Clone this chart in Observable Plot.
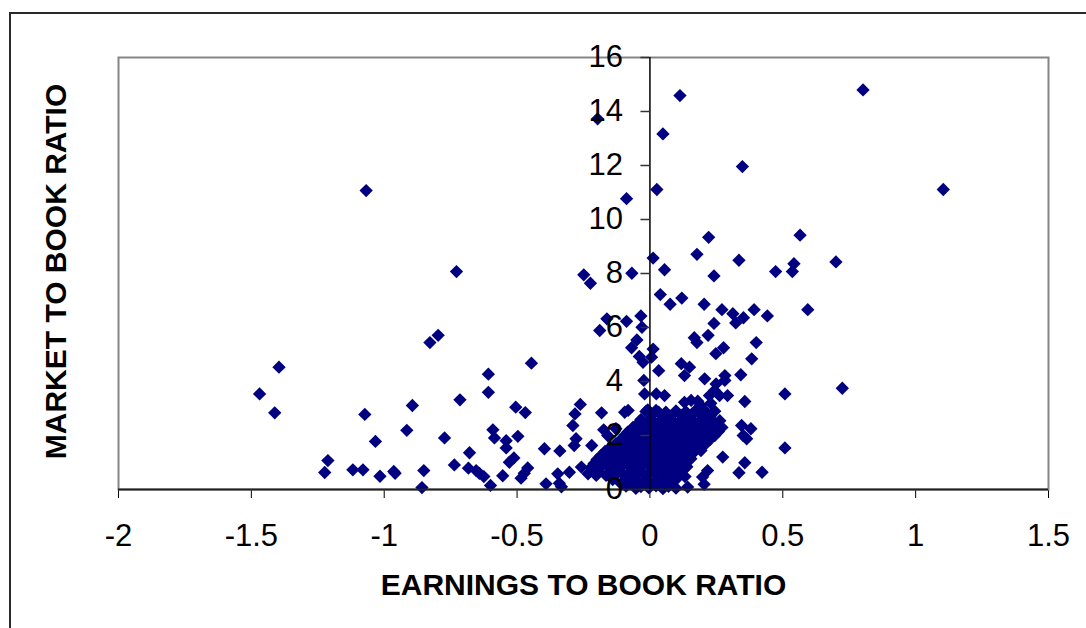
<!DOCTYPE html>
<html>
<head>
<meta charset="utf-8">
<script src="https://cdn.jsdelivr.net/npm/d3@7"></script>
<script src="https://cdn.jsdelivr.net/npm/@observablehq/plot@0.6"></script>
<style>
  html, body { margin: 0; padding: 0; background: #fff; overflow: hidden; }
  #wrap { position: relative; width: 1086px; height: 628px; }
  #border { position: absolute; left: 9px; top: 12px; width: 1200px; height: 800px;
            border: 2px solid #2a2a2a; pointer-events: none; }
  #chart { position: absolute; left: 0; top: 0; }
</style>
</head>
<body>
<div id="wrap"><div id="chart"></div><div id="border"></div></div>
<script>
// Earnings-to-book ratio (x) and market-to-book ratio (y)
const earnings = [
  -0.197, 0.113, 0.049, 0.348, 0.026, -0.088, 0.802, 0.221, 0.565, 0.012,
  0.177, 0.335, 0.700, 0.542, 0.536, 0.473, 0.055, 0.241, -0.068, -0.249,
  -0.224, 0.039, 0.120, 0.076, 0.204, 0.271, 0.392, 0.594, 0.312, 0.442,
  0.352, 0.323, 0.241, -0.034, -0.030, -0.088, -0.162, -0.189, -0.049, -0.069,
  0.167, 0.177, 0.219, 0.400, 0.012, 0.248, 0.277, -0.040, 0.383, 0.342,
  0.282, 0.282, 0.508, 0.724, 0.357, 0.292, 0.345, 0.380, 0.351, 0.364,
  0.508, 0.357, 0.335, 0.422, 0.274, 1.104, -0.728, -0.828, -0.797, -0.446,
  -0.608, -0.608, -0.715, -0.894, -1.073, -0.505, -0.469, -0.262, -0.282, -0.182,
  -0.095, -0.082, 0.006, -0.026, 0.033, -0.023, -0.020, 0.024, 0.055, -0.008,
  0.033, 0.118, 0.149, 0.130, 0.206, 0.249, 0.130, 0.155, 0.180, 0.224,
  0.243, 0.262, 0.254, 0.217, 0.198, 0.204, 0.142, -0.333, -0.290, -0.278,
  -0.285, -0.219, -0.339, -0.159, -0.128, -0.084, -0.174, -1.396, -1.469, -1.412,
  -1.068, -0.915, -1.033, -0.773, -0.591, -0.585, -0.541, -0.541, -0.497, -0.679,
  -0.512, -0.529, -0.397, -1.212, -1.224, -1.118, -1.080, -1.016, -0.964, -0.959,
  -0.851, -0.858, -0.736, -0.683, -0.654, -0.642, -0.625, -0.600, -0.554, -0.485,
  -0.473, -0.460, -0.391, -0.347, -0.341, -0.303, -0.258, -0.233, -0.202,
  // dense cluster near the origin
  0.229, 0.190,
  -0.015, 0.023, 0.060, 0.098, 0.135, 0.173, 0.211, 0.244,
  0.004, 0.041, 0.079, 0.117, 0.154, 0.192, 0.229,
  -0.034, 0.004, 0.041, 0.079, 0.117, 0.154, 0.192, 0.229, 0.263,
  -0.045, -0.008, 0.030, 0.067, 0.105, 0.143, 0.180, 0.218, 0.254,
  -0.064, -0.026, 0.011, 0.049, 0.086, 0.124, 0.162, 0.199, 0.237, 0.271,
  -0.075, -0.038, 0.000, 0.037, 0.075, 0.113, 0.150, 0.188, 0.226, 0.258,
  -0.094, -0.056, -0.019, 0.019, 0.056, 0.094, 0.132, 0.169, 0.207, 0.244,
  -0.109, -0.071, -0.034, 0.004, 0.041, 0.079, 0.117, 0.154, 0.192, 0.226,
  -0.128, -0.090, -0.053, -0.015, 0.023, 0.060, 0.098, 0.135, 0.173, 0.211,
  -0.150, -0.113, -0.075, -0.038, 0.000, 0.037, 0.075, 0.113, 0.150, 0.185,
  -0.169, -0.132, -0.094, -0.056, -0.019, 0.019, 0.056, 0.094, 0.132, 0.169, 0.192,
  -0.184, -0.147, -0.109, -0.071, -0.034, 0.004, 0.041, 0.079, 0.117, 0.150,
  -0.199, -0.162, -0.124, -0.086, -0.049, -0.011, 0.026, 0.064, 0.102, 0.139, 0.154,
  -0.210, -0.173, -0.135, -0.098, -0.060, -0.023, 0.015, 0.052, 0.090, 0.128,
  -0.222, -0.184, -0.147, -0.109, -0.071, -0.034, 0.004, 0.041, 0.079, 0.117, 0.139,
  -0.195, -0.147, -0.109, -0.071, -0.034, 0.004, 0.041, 0.079, 0.117,
  -0.165, -0.128, -0.090, -0.053, -0.015, 0.023, 0.060, 0.098, 0.132,
  -0.140, -0.090, -0.053, -0.015, 0.023, 0.060, 0.098,
  -0.109, -0.071, -0.034, 0.004, 0.041, 0.079,
  -0.090, -0.034, 0.023, 0.070,
  -0.053, -0.004, 0.049, 0.098
];
const market = [
  13.73, 14.59, 13.17, 11.96, 11.11, 10.77, 14.80, 9.34, 9.42, 8.57,
  8.71, 8.49, 8.43, 8.36, 8.07, 8.07, 8.14, 7.91, 8.01, 7.95,
  7.64, 7.22, 7.09, 6.86, 6.86, 6.66, 6.66, 6.66, 6.51, 6.43,
  6.36, 6.17, 6.15, 6.43, 6.01, 6.23, 6.32, 5.89, 5.54, 5.25,
  5.62, 5.44, 5.71, 5.44, 5.20, 5.03, 5.25, 4.93, 4.84, 4.25,
  4.22, 4.04, 3.54, 3.75, 3.26, 3.48, 2.37, 2.25, 2.00, 1.88,
  1.54, 0.99, 0.62, 0.64, 1.20, 11.11, 8.07, 5.44, 5.71, 4.68,
  4.27, 3.60, 3.32, 3.11, 2.78, 3.05, 2.85, 3.15, 2.80, 2.84,
  2.86, 2.93, 4.90, 4.71, 4.40, 4.04, 3.54, 3.54, 3.48, 2.95,
  2.86, 4.66, 4.53, 4.22, 4.10, 3.91, 3.23, 3.30, 3.27, 3.48,
  3.67, 3.48, 2.25, 0.70, 0.46, 0.19, 0.09, 0.10, 2.37, 1.88,
  1.63, 1.63, 1.43, 2.00, 2.25, 2.12, 2.21, 4.53, 3.54, 2.84,
  11.07, 2.19, 1.78, 1.91, 2.21, 1.91, 1.81, 1.54, 1.97, 1.36,
  1.17, 1.01, 1.51, 1.07, 0.63, 0.73, 0.73, 0.49, 0.67, 0.60,
  0.70, 0.07, 0.91, 0.79, 0.70, 0.60, 0.48, 0.15, 0.51, 0.42,
  0.60, 0.80, 0.21, 0.58, 0.23, 0.64, 0.83, 0.58, 0.52,
  3.19, 3.12,
  2.89, 2.93, 2.86, 2.91, 2.88, 2.94, 2.87, 2.90,
  2.74, 2.76, 2.72, 2.75, 2.73, 2.77, 2.74,
  2.59, 2.62, 2.56, 2.60, 2.57, 2.63, 2.58, 2.61, 2.55,
  2.44, 2.46, 2.42, 2.45, 2.43, 2.47, 2.44, 2.45, 2.42,
  2.30, 2.33, 2.27, 2.31, 2.28, 2.34, 2.29, 2.32, 2.26, 2.30,
  2.15, 2.17, 2.13, 2.16, 2.14, 2.18, 2.15, 2.16, 2.13, 2.15,
  2.00, 2.03, 1.97, 2.01, 1.98, 2.04, 1.99, 2.02, 1.96, 2.00,
  1.85, 1.87, 1.83, 1.86, 1.84, 1.88, 1.85, 1.86, 1.83, 1.85,
  1.70, 1.73, 1.67, 1.71, 1.68, 1.74, 1.69, 1.72, 1.66, 1.70,
  1.56, 1.58, 1.54, 1.57, 1.55, 1.59, 1.56, 1.57, 1.54, 1.56,
  1.41, 1.44, 1.38, 1.42, 1.39, 1.45, 1.40, 1.43, 1.37, 1.41, 1.44,
  1.26, 1.28, 1.24, 1.27, 1.25, 1.29, 1.26, 1.27, 1.24, 1.26,
  1.11, 1.14, 1.08, 1.12, 1.09, 1.15, 1.10, 1.13, 1.07, 1.11, 1.14,
  0.96, 0.98, 0.94, 0.97, 0.95, 0.99, 0.96, 0.97, 0.94, 0.96,
  0.81, 0.84, 0.78, 0.82, 0.79, 0.85, 0.80, 0.83, 0.77, 0.81, 0.84,
  0.67, 0.69, 0.65, 0.68, 0.66, 0.70, 0.67, 0.68, 0.65,
  0.52, 0.55, 0.49, 0.53, 0.50, 0.56, 0.51, 0.54, 0.48,
  0.37, 0.39, 0.35, 0.38, 0.36, 0.40, 0.37,
  0.22, 0.25, 0.19, 0.23, 0.20, 0.26,
  0.13, 0.11, 0.14, 0.12,
  0.04, 0.06, 0.03, 0.05
];
const xTicks = [-2, -1.5, -1, -0.5, 0, 0.5, 1, 1.5];
const yTicks = [0, 2, 4, 6, 8, 10, 12, 14, 16];
const xTitle = "EARNINGS TO BOOK RATIO";
const yTitle = "MARKET TO BOOK RATIO";

const points = earnings.map((e, i) => ({ebr: e, mbr: market[i]}));

const chart = Plot.plot({
  width: 1086,
  height: 628,
  marginLeft: 118,
  marginRight: 38,
  marginTop: 57,
  marginBottom: 139,
  style: {fontFamily: "'Liberation Sans', Arial, sans-serif", fontSize: "31px", color: "#000", background: "#fff"},
  x: {domain: [-2, 1.5], ticks: xTicks, tickFormat: d => String(d), tickSize: 9, tickPadding: 25, label: null},
  y: {domain: [0, 16], axis: null},
  marks: [
    Plot.frame({stroke: "#858585", strokeWidth: 2}),
    Plot.dot(points, {x: "ebr", y: "mbr", symbol: "diamond2", r: 6, fill: "#000080", stroke: "none"}),
    Plot.ruleY([0], {stroke: "#222", strokeWidth: 2}),
    Plot.ruleX([0], {stroke: "#000", strokeWidth: 1.5}),
    Plot.ruleY(yTicks, {y: d => d, x1: 0, x2: 0, insetLeft: -9, stroke: "#333", strokeWidth: 1.5}),
    Plot.text(yTicks, {y: d => d, x: 0, text: d => String(d), textAnchor: "end", dx: -27, fontSize: 31, fill: "#000"}),
    Plot.text([xTitle], {frameAnchor: "bottom", dy: 96, textAnchor: "middle", lineAnchor: "middle", fontSize: 30, fontWeight: "bold", fill: "#000"}),
    Plot.text([yTitle], {frameAnchor: "left", dx: -62, dy: -2, rotate: -90, textAnchor: "middle", lineAnchor: "middle", fontSize: 30, fontWeight: "bold", fill: "#000"})
  ]
});
document.getElementById("chart").appendChild(chart);
</script>
</body>
</html>
